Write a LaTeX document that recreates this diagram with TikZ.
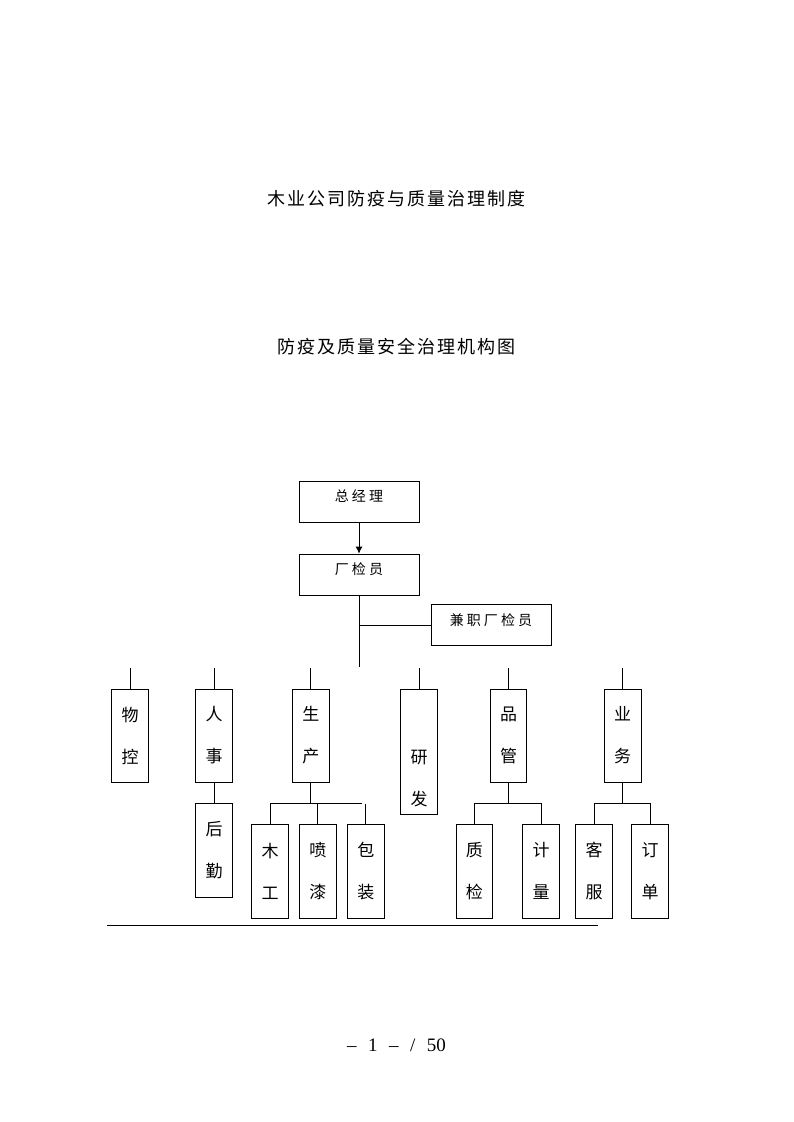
\documentclass[tikz,border=0pt]{standalone}
\usepackage{fontspec}
\setmainfont{Liberation Serif}
\newfontfamily\cjk{Noto Sans CJK SC}
\usetikzlibrary{arrows,arrows.meta}

\tikzset{
  tchar/.style={align=center, inner sep=0pt, font=\cjk\fontsize{17}{42}\selectfont},
  tbox/.style={tchar, draw, minimum width=36.6pt, minimum height=93pt},
  wbox/.style={draw, minimum width=120pt, minimum height=41pt, inner sep=0pt,
    text height=10pt, text depth=10pt,
    font=\cjk\fontsize{14}{15}\selectfont\addfontfeature{LetterSpace=22}},
  heading/.style={font=\cjk\fontsize{18}{20}\selectfont\addfontfeature{LetterSpace=11}}
}

\begin{document}
\begin{tikzpicture}[x=1pt,y=-1pt,line width=0.8pt]
\useasboundingbox (0,0) rectangle (793,1122);

\node (title) at (396.5,199) [heading] {木业公司防疫与质量治理制度};
\node (subtitle) at (396.5,347) [heading] {防疫及质量安全治理机构图};

\node (zjl) at (359,501.5) [wbox] {总经理};
\node (cjy) at (359,574.5) [wbox] {厂检员};
\node (jz) at (491,625) [wbox] {兼职厂检员};

\draw [-{Latex[length=7pt,width=7pt]}] (zjl) -- (cjy);
\coordinate (trunk) at (359,667);
\draw (cjy) -- (trunk);
\draw (jz.west) -- (jz.west -| cjy);

\node (wk) at (130,735.5) [tbox] {物\\控};
\node (rs) at (214,735.5) [tbox] {人\\事};
\node (sc) at (310.8,735.5) [tbox] {生\\产};
\node (yf) at (419,751.5) [tbox, minimum height=125pt] {};
\node (yft) at (419,779) [tchar] {研\\发};
\node (pg) at (508.5,735.5) [tbox] {品\\管};
\node (yw) at (622.7,735.5) [tbox] {业\\务};

\foreach \n in {wk,rs,sc,yf,pg,yw}
  \draw (\n.north) -- ++(0,-21);

\node (hq) at (214,850) [tbox, minimum height=94pt] {后\\勤};
\node (mg) at (270,871) [tbox, minimum height=94pt] {木\\工};
\node (pq) at (317.8,871) [tbox, minimum height=94pt] {喷\\漆};
\node (bz) at (365.8,871) [tbox, minimum height=94pt] {包\\装};
\node (zj) at (474.3,871) [tbox, minimum height=94pt] {质\\检};
\node (jl) at (541,871) [tbox, minimum height=94pt] {计\\量};
\node (kf) at (594,871) [tbox, minimum height=94pt] {客\\服};
\node (dd) at (650,871) [tbox, minimum height=94pt] {订\\单};

\draw (rs) -- (hq);

\coordinate (scb) at (310.8,803);
\coordinate (scr) at (362,803);
\draw (sc) -- (scb);
\draw (mg.north) -- (mg.north |- scb) -- (scr);
\draw (pq.north) -- (pq.north |- scb);
\draw (bz.north) -- ++(0,-20);

\coordinate (pgb) at (508.5,803);
\draw (pg) -- (pgb);
\draw (zj.north) -- (zj.north |- pgb) -- (jl.north |- pgb) -- (jl.north);

\coordinate (ywb) at (622.7,803);
\draw (yw) -- (ywb);
\draw (kf.north) -- (kf.north |- ywb) -- (dd.north |- ywb) -- (dd.north);

\draw (107,925) -- (598,925);

\node (page) at (396.5,1045) [font=\fontsize{19}{19}\selectfont]
  {–\hspace{11.5pt}1\hspace{11.5pt}–\hspace{11.5pt}/\hspace{11.5pt}50};
\end{tikzpicture}
\end{document}
